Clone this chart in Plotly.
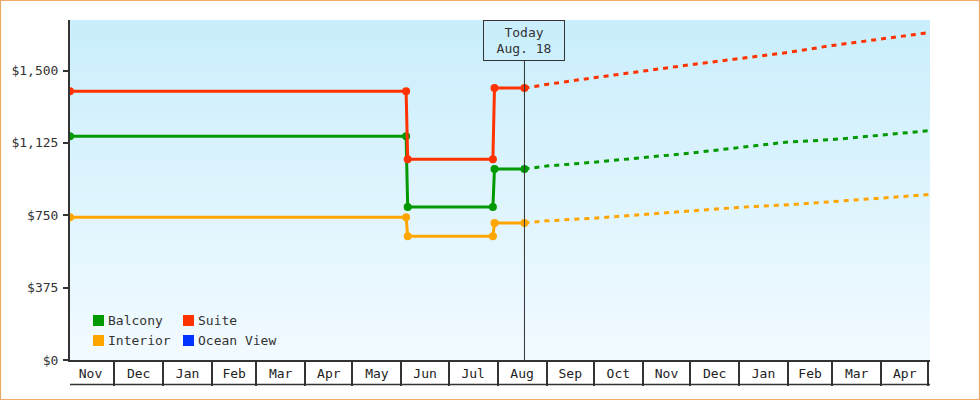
import plotly.graph_objects as go

# ---------------- data ----------------
hist_dates = ["2016-11-03", "2017-06-04", "2017-06-05", "2017-07-29", "2017-07-30", "2017-08-18"]
balcony_hist = [1160, 1160, 793, 793, 990, 990]
suite_hist = [1393, 1393, 1041, 1041, 1409, 1409]
interior_hist = [740, 740, 641, 641, 710, 710]

fc_dates = ["2017-08-18", "2017-09-01", "2017-10-01", "2017-11-01", "2017-12-01",
            "2018-01-01", "2018-02-01", "2018-03-01", "2018-04-01", "2018-05-02"]
balcony_fc = [990, 1005, 1025, 1049, 1072, 1101, 1130, 1142, 1165, 1189]
suite_fc = [1409, 1428, 1463, 1498, 1530, 1562, 1594, 1630, 1662, 1697]
interior_fc = [710, 721, 735, 753, 773, 791, 804, 822, 839, 858]

legend_names = ["Balcony", "Suite", "Interior", "Ocean View"]
legend_colors = ["#009900", "#ff3300", "#ffa500", "#0033ff"]

y_ticks = [0, 375, 750, 1125, 1500]
y_tick_text = ["$0", "$375", "$750", "$1,125", "$1,500"]
x_range = ["2016-11-03", "2018-05-02"]
today_date = "2017-08-18"
today_label = "Today<br>Aug. 18"

FONT = "DejaVu Sans Mono"
TXT = "#333333"

series = [
    ("Balcony", balcony_hist, balcony_fc, "#009900"),
    ("Interior", interior_hist, interior_fc, "#ffa500"),
    ("Suite", suite_hist, suite_fc, "#ff3300"),
]

fig = go.Figure()
for name, h, f, c in series:
    fig.add_trace(go.Scatter(x=fc_dates, y=f, mode="lines", name=name,
                             line=dict(color=c, width=3, dash="5px,5px"),
                             showlegend=False, hoverinfo="skip"))
for name, h, f, c in series:
    fig.add_trace(go.Scatter(x=hist_dates, y=h, mode="lines+markers", name=name,
                             line=dict(color=c, width=3),
                             marker=dict(color=c, size=8, symbol="circle"),
                             showlegend=False))

# ---------------- layout geometry ----------------
W, H = 980, 400
ML, MR, MT, MB = 70, 50, 20, 40
PW, PH = W - ML - MR, H - MT - MB


def px(x):
    return (x - ML) / PW


def py(y):
    return (H - MB - y) / PH


shapes = []
# background gradient (top light blue -> bottom near white)
top = (202, 238, 252)
bot = (241, 250, 255)
n = 34
for i in range(n):
    t = i / (n - 1)
    col = tuple(round(top[k] + (bot[k] - top[k]) * t) for k in range(3))
    shapes.append(dict(type="rect", xref="paper", yref="paper",
                       x0=0, x1=1, y0=1 - (i + 1) / n, y1=1 - i / n,
                       fillcolor="rgb(%d,%d,%d)" % col, line=dict(width=0),
                       layer="below"))

# today line
shapes.append(dict(type="line", xref="x", yref="paper", x0=today_date, x1=today_date,
                   y0=0, y1=py(60.3), line=dict(color=TXT, width=1)))
# bottom line of month boxes
shapes.append(dict(type="line", xref="paper", yref="paper", x0=0, x1=1,
                   y0=py(384.5), y1=py(384.5), line=dict(color=TXT, width=1.5)))
# outer orange border
shapes.append(dict(type="rect", xref="paper", yref="paper",
                   x0=px(0.5), x1=px(979.5), y0=py(399.5), y1=py(0.5),
                   line=dict(color="#eeaa66", width=1.2), fillcolor="rgba(0,0,0,0)"))

annotations = [dict(x=today_date, xref="x", y=1, yref="paper", yanchor="top",
                    xanchor="center", text=today_label, showarrow=False,
                    font=dict(family=FONT, size=13, color=TXT),
                    bordercolor=TXT, borderwidth=1, borderpad=2,
                    width=76, height=35, bgcolor="rgba(0,0,0,0)")]

# custom legend (2 columns)
leg_pos = [(93, 320.5), (183, 320.5), (93, 340.5), (183, 340.5)]
for (lx, ly), name, col in zip(leg_pos, legend_names, legend_colors):
    shapes.append(dict(type="rect", xref="paper", yref="paper",
                       x0=px(lx), x1=px(lx + 11), y0=py(ly + 5.5), y1=py(ly - 5.5),
                       fillcolor=col, line=dict(width=0)))
    annotations.append(dict(x=px(lx + 13), y=py(ly), xref="paper", yref="paper",
                            xanchor="left", yanchor="middle", text=name,
                            showarrow=False,
                            font=dict(family=FONT, size=13, color=TXT)))

fig.update_layout(
    width=W, height=H,
    margin=dict(l=ML, r=MR, t=MT, b=MB, pad=0),
    paper_bgcolor="white", plot_bgcolor="white",
    font=dict(family=FONT, size=13, color=TXT),
    shapes=shapes, annotations=annotations,
    showlegend=False,
    xaxis=dict(type="date", range=x_range, dtick="M1", tick0="2016-12-01",
               tickformat="%b", ticklabelmode="period",
               ticks="outside", ticklen=24, tickwidth=1.5, tickcolor=TXT,
               ticklabelstandoff=-23,
               showline=True, linecolor=TXT, linewidth=1.5,
               showgrid=False, zeroline=False,
               tickfont=dict(family=FONT, size=13, color="#222222")),
    yaxis=dict(range=[0, 1762], tickmode="array", tickvals=y_ticks, ticktext=y_tick_text,
               ticks="outside", ticklen=5, tickwidth=2, tickcolor=TXT,
               showline=True, linecolor=TXT, linewidth=2,
               showgrid=False, zeroline=False, ticklabelstandoff=2,
               tickfont=dict(family=FONT, size=13, color=TXT)),
)

fig.write_html("out.html", config={"displayModeBar": False},
               post_script="document.body.style.margin='0';document.body.style.padding='0';")
